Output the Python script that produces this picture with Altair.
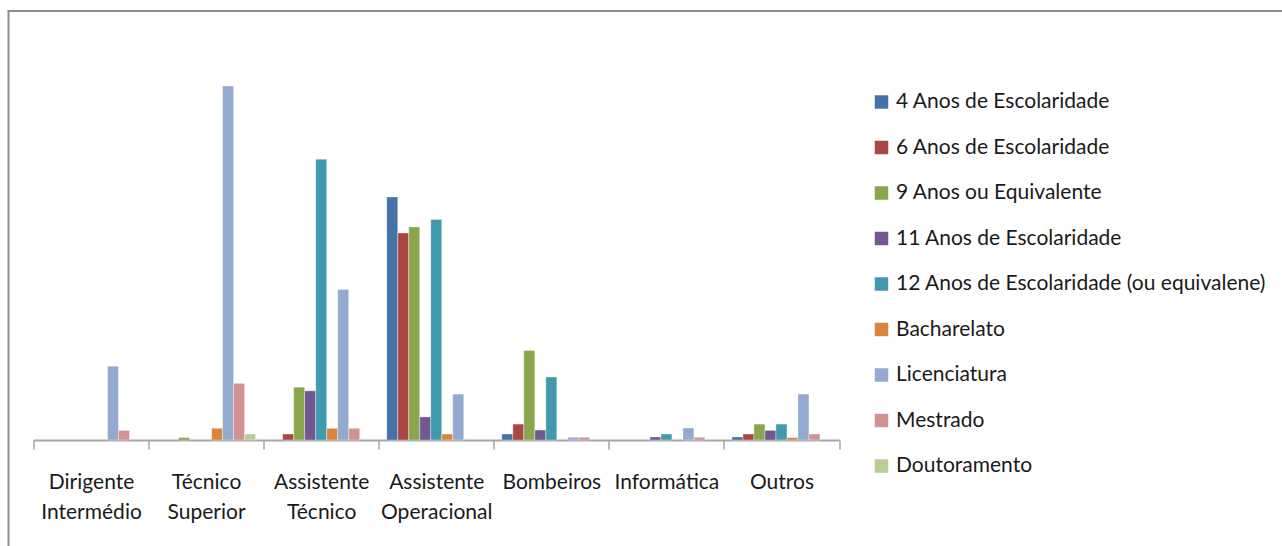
import altair as alt
import pandas as pd

# Job categories along the x axis
categories = [
    "Dirigente Intermédio",
    "Técnico Superior",
    "Assistente Técnico",
    "Assistente Operacional",
    "Bombeiros",
    "Informática",
    "Outros",
]

# Education levels (one bar per level inside each category)
series = [
    "4 Anos de Escolaridade",
    "6 Anos de Escolaridade",
    "9 Anos ou Equivalente",
    "11 Anos de Escolaridade",
    "12 Anos de Escolaridade (ou equivalene)",
    "Bacharelato",
    "Licenciatura",
    "Mestrado",
    "Doutoramento",
]

colors = [
    "#4572A7", "#AA4643", "#89A54E", "#71588F", "#4198AF",
    "#DB843D", "#93A9CF", "#D19392", "#B9CD96",
]

# Headcount per category, in the order of `categories`
anos_4 = [0, 0, 0, 81, 2, 0, 1]
anos_6 = [0, 0, 2, 69, 5.3, 0, 2]
anos_9 = [0, 0.8, 17.6, 71, 29.8, 0, 5.3]
anos_11 = [0, 0, 16.4, 7.7, 3.3, 1, 3.2]
anos_12 = [0, 0, 93.6, 73.5, 21, 2, 5.3]
bacharelato = [0, 3.9, 3.9, 2, 0, 0, 0.8]
licenciatura = [24.6, 118, 50.2, 15.3, 0.9, 4, 15.3]
mestrado = [3.2, 18.9, 3.9, 0, 0.9, 0.9, 2]
doutoramento = [0, 2, 0, 0, 0, 0, 0]

values = [anos_4, anos_6, anos_9, anos_11, anos_12,
          bacharelato, licenciatura, mestrado, doutoramento]

rows = []
for s, vals in zip(series, values):
    for c, v in zip(categories, vals):
        rows.append({"cat": c, "serie": s, "v": v})
df = pd.DataFrame(rows)

W, H = 805.5, 429
FONT = "Lato"
TEXT = "#1a1a1a"
GRAY = "#a6a6a6"

bars = (
    alt.Chart(df)
    .transform_filter("datum.v > 0")
    .mark_bar(stroke="white", strokeOpacity=0.45, strokeWidth=0.8)
    .encode(
        x=alt.X(
            "cat:N",
            sort=categories,
            scale=alt.Scale(domain=categories, paddingInner=0, paddingOuter=0),
            axis=alt.Axis(
                title=None,
                labelAngle=0,
                tickBand="extent",
                labelExpr="split(datum.label, ' ')",
                labelFont=FONT,
                labelFontSize=21,
                labelColor=TEXT,
                labelLineHeight=30,
                labelBaseline="alphabetic",
                labelPadding=39,
                tickSize=9,
                tickColor=GRAY,
                tickWidth=1.5,
                domainColor=GRAY,
                domainWidth=2,
            ),
        ),
        xOffset=alt.XOffset(
            "serie:N",
            sort=series,
            scale=alt.Scale(domain=series, paddingInner=0, paddingOuter=0.73),
        ),
        y=alt.Y("v:Q", scale=alt.Scale(domain=[0, 143], nice=False, zero=True), axis=None),
        color=alt.Color(
            "serie:N",
            sort=series,
            scale=alt.Scale(domain=series, range=colors),
            legend=alt.Legend(
                title=None,
                orient="none",
                legendX=837.5,
                legendY=80.5,
                symbolType="square",
                symbolSize=182,
                symbolStrokeWidth=0,
                labelFont=FONT,
                labelFontSize=21,
                labelColor=TEXT,
                labelOffset=4,
                rowPadding=23.5,
                labelLimit=400,
            ),
        ),
    )
)

# Chart-area frame (top and left edges)
one = pd.DataFrame({"k": [0]})
frame_top = alt.Chart(one).mark_rule(color="#8c8c8c", strokeWidth=2).encode(
    x=alt.value(-26), x2=alt.value(1300), y=alt.value(0)
)
frame_left = alt.Chart(one).mark_rule(color="#8c8c8c", strokeWidth=2).encode(
    x=alt.value(-25), y=alt.value(0), y2=alt.value(700)
)

chart = (
    alt.layer(bars, frame_top, frame_left)
    .properties(
        width=W,
        height=H,
        padding={"left": 33.5, "top": 11, "right": 443, "bottom": 106},
        autosize=alt.AutoSizeParams(type="none"),
    )
    .configure_view(stroke=None)
)

chart.save("out.html", embed_options={"renderer": "svg", "actions": False})
